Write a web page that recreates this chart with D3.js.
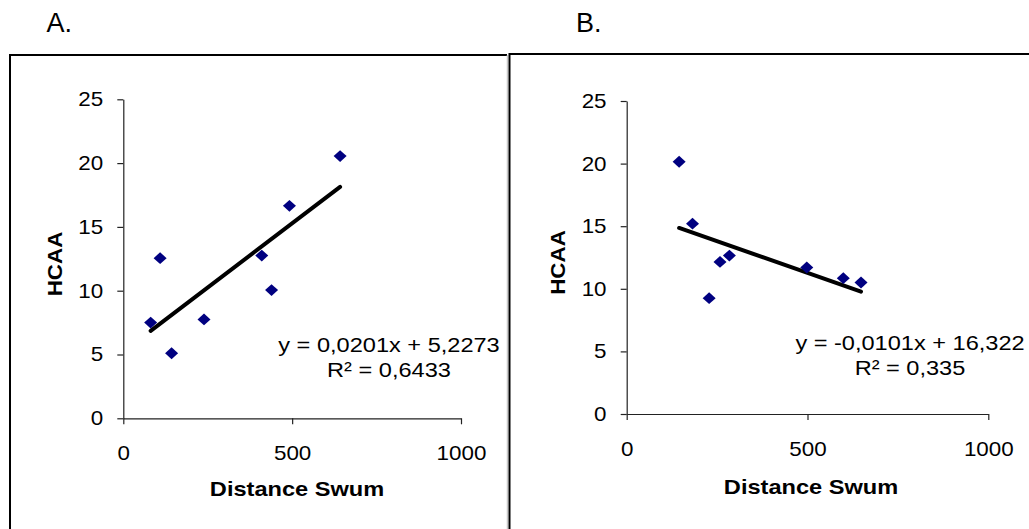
<!DOCTYPE html>
<html>
<head>
<meta charset="utf-8">
<script src="https://cdn.jsdelivr.net/npm/d3@7"></script>
<style>
  body { margin: 0; background: #fff; }
  svg { display: block; }
  text { font-family: "Liberation Sans", Arial, sans-serif; fill: #000; }
</style>
</head>
<body>
<svg id="chart" width="1029" height="529"></svg>
<script>
// values
let aDist = [81, 109, 143, 239, 410, 439, 492, 642];
let aHcaa = [7.5, 12.55, 5.1, 7.75, 12.75, 10.05, 16.65, 20.55];
let bDist = [145, 182, 228, 258, 284, 498, 599, 648];
let bHcaa = [20.15, 15.2, 9.25, 12.15, 12.65, 11.7, 10.85, 10.5];

let aFit = [0.0201, 5.2273];
let bFit = [-0.0101, 16.322];
let aLabels = ['y = 0,0201x + 5,2273', 'R\u00b2 = 0,6433'];
let bLabels = ['y = -0,0101x + 16,322', 'R\u00b2 = 0,335'];

let xTicks = [0, 500, 1000];
let yTicks = [0, 5, 10, 15, 20, 25];
let panelNames = ['A.', 'B.'];
let xTitle = 'Distance Swum';
let yTitle = 'HCAA';

let svg = d3.select('#chart');

// text that looks stretched sideways like the original scan
function wideText(g, str, x, y, size, sx, opts) {
  opts = opts || {};
  let rot = opts.rotate ? ' rotate(' + opts.rotate + ')' : '';
  return g.append('text')
    .attr('transform', 'translate(' + x + ',' + y + ')' + rot + ' scale(' + sx + ',1)')
    .attr('text-anchor', opts.anchor || 'start')
    .style('font-size', size + 'px')
    .style('font-weight', opts.bold ? 'bold' : 'normal')
    .text(str);
}

function Panel(svg, cfg) {
  let g = svg.append('g');

  let x = d3.scaleLinear().domain([0, 1000]).range(cfg.xRange);
  let y = d3.scaleLinear().domain([0, 25]).range(cfg.yRange);

  // y axis
  let yAxis = g.append('g')
    .attr('transform', 'translate(' + cfg.xRange[0] + ',0)')
    .call(d3.axisLeft(y).tickValues(yTicks).tickSize(6).tickSizeOuter(0).tickPadding(12));
  // x axis
  let xAxis = g.append('g')
    .attr('transform', 'translate(0,' + cfg.yRange[0] + ')')
    .call(d3.axisBottom(x).tickValues(xTicks).tickFormat(d3.format('d'))
      .tickSize(6).tickSizeOuter(0).tickPadding(22));

  [yAxis, xAxis].forEach(ax => {
    ax.attr('font-size', 20).attr('font-family', null);
    ax.selectAll('path, line').attr('stroke', '#222').attr('stroke-width', 1.2);
    ax.selectAll('text')
      .attr('font-size', 20)
      .style('font-size', '20px')
      .attr('fill', '#000')
      .attr('transform', 'scale(1.12,1)');
  });

  // trend line over the data range
  let xs = d3.extent(cfg.dist);
  g.append('path')
    .attr('d', d3.line()(xs.map(v => [x(v), y(cfg.fit[0] * v + cfg.fit[1])])))
    .attr('fill', 'none')
    .attr('stroke', '#000')
    .attr('stroke-width', 4)
    .attr('stroke-linecap', 'round');

  // diamonds
  let diamond = d3.symbol(d3.symbolSquare, 70)();
  g.selectAll('.pt')
    .data(cfg.dist.map((d, i) => [d, cfg.hcaa[i]]))
    .enter()
    .append('path')
    .attr('class', 'pt')
    .attr('d', diamond)
    .attr('transform', d => 'translate(' + x(d[0]) + ',' + y(d[1]) + ') scale(1.1,1) rotate(45)')
    .attr('fill', '#000080');

  // equation
  cfg.labels.forEach((t, i) => {
    wideText(g, t, cfg.eqX, cfg.eqY + i * 25, 20.5, 1.15, {anchor: 'middle'});
  });

  // axis titles
  wideText(g, xTitle, cfg.xTitle[0], cfg.xTitle[1], 20, 1.18, {anchor: 'middle', bold: true});
  wideText(g, yTitle, cfg.yTitle[0], cfg.yTitle[1], 20, 1.12, {anchor: 'middle', bold: true, rotate: -90});

  // panel letter
  g.append('text')
    .attr('x', cfg.letter[0])
    .attr('y', cfg.letter[1])
    .style('font-size', '27px')
    .text(cfg.name);
}

// frames
svg.append('path')
  .attr('d', 'M10,540 V55 H507')
  .attr('fill', 'none').attr('stroke', '#000').attr('stroke-width', 2);
svg.append('line')
  .attr('x1', 507.5).attr('y1', 55).attr('x2', 507.5).attr('y2', 540)
  .attr('stroke', '#c8c8c8').attr('stroke-width', 1.5);
svg.append('path')
  .attr('d', 'M509.5,540 V54 H1040')
  .attr('fill', 'none').attr('stroke', '#000').attr('stroke-width', 2);

new Panel(svg, {
  name: panelNames[0], dist: aDist, hcaa: aHcaa, fit: aFit, labels: aLabels,
  xRange: [123.3, 461], yRange: [418.3, 99.3],
  eqX: 389, eqY: 351.5, xTitle: [297, 496], yTitle: [61.5, 264], letter: [46.5, 31.7]
});
new Panel(svg, {
  name: panelNames[1], dist: bDist, hcaa: bHcaa, fit: bFit, labels: bLabels,
  xRange: [626.7, 988.3], yRange: [414, 101],
  eqX: 910, eqY: 350, xTitle: [811, 494], yTitle: [565, 262.5], letter: [576, 32]
});
</script>
</body>
</html>
